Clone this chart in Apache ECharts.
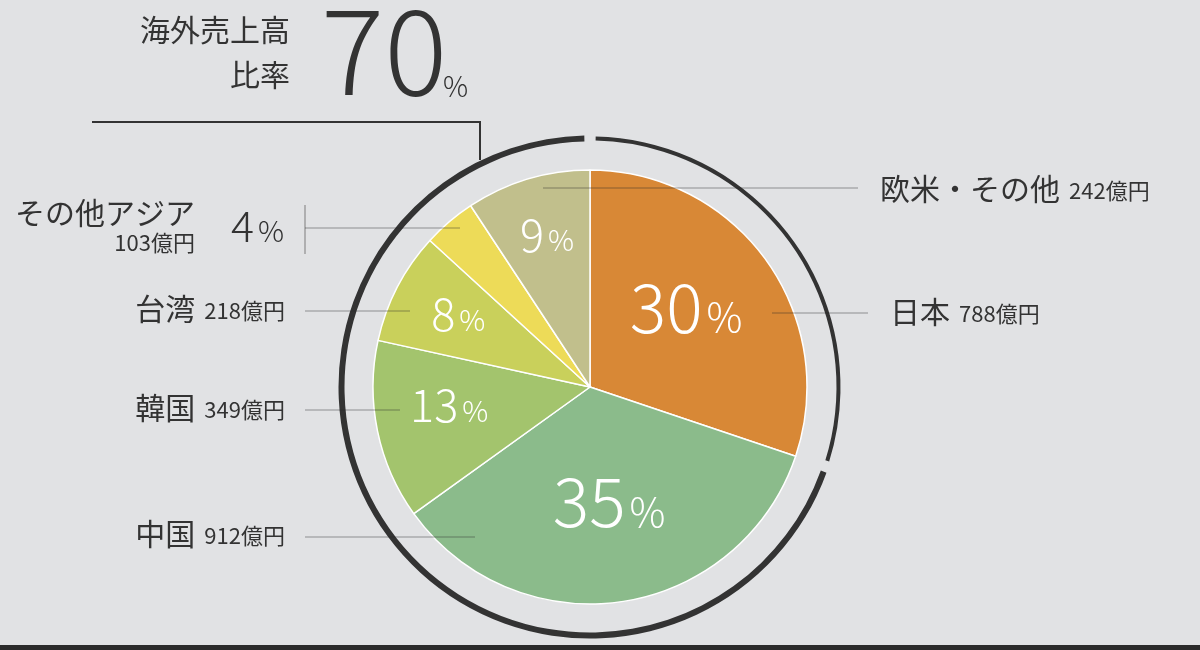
<!DOCTYPE html>
<html>
<head>
<meta charset="utf-8">
<script src="https://cdn.jsdelivr.net/npm/echarts@6/dist/echarts.min.js"></script>
<style>
html,body{margin:0;padding:0;background:#E1E2E4;}
#c{width:1200px;height:650px;}
</style>
</head>
<body>
<div id="c"></div>
<script>
// ---- data ----
const regions = ['日本', '中国', '韓国', '台湾', 'その他アジア', '欧米・その他'];
const sales = [788, 912, 349, 218, 103, 242];          // 億円
const colors = ['#D88836', '#8BBB8B', '#A3C46D', '#C9D05B', '#EDDB58', '#C1BF8C'];
const titleLines = ['海外売上高', '比率'];
const unit = '億円';

const FONT = "'Noto Sans CJK JP', 'Noto Sans', sans-serif";
const total = sales.reduce((a, b) => a + b, 0);
const pct = v => Math.round(v / total * 100);
const domestic = sales[0];
const overseasPct = pct(total - domestic);

// leader line / label spots (layout only)
const spots = [
  {x: 890, y: 312, align: 'left',  line: [[772, 313], [820, 313], [868, 313]]},
  {x: 285, y: 534, align: 'right', line: [[475, 537], [390, 537], [305, 537]]},
  {x: 285, y: 408, align: 'right', line: [[400, 410], [352, 410], [305, 410]]},
  {x: 285, y: 309, align: 'right', line: [[410, 311], [357, 311], [305, 311]]},
  {x: 195, y: 226, align: 'right', line: [[460, 228], [380, 228], [305, 228]]},
  {x: 880, y: 189, align: 'left',  line: [[543, 188], [700, 188], [858, 188]]}
];
// small nudges of the in-slice percentage labels
const pctNudge = [[-3, -9], [1, -6], [9, -13], [4, -3], [0, 0], [1, -6]];

const chart = echarts.init(document.getElementById('c'), null, {renderer: 'canvas'});

const clearData = (show) => regions.map((n, i) => ({
  name: n, value: sales[i], itemStyle: {color: 'rgba(0,0,0,0)'},
  label: {show: show(i)}
}));

const pctRich = (big, small, pad, color) => ({
  v: {fontSize: big, color: color, fontFamily: FONT, fontWeight: 300},
  p: {fontSize: small, color: color, fontFamily: FONT, fontWeight: 300, verticalAlign: 'bottom', padding: [0, 0, pad, 4]}
});

const option = {
  backgroundColor: '#E1E2E4',
  animation: false,
  graphic: [
    {type: 'text', right: 1200 - 290, top: 15, style: {text: titleLines[0], fontSize: 30, fill: '#333', fontFamily: FONT, textAlign: 'right'}},
    {type: 'text', right: 1200 - 290, top: 60, style: {text: titleLines[1], fontSize: 30, fill: '#333', fontFamily: FONT, textAlign: 'right'}},
    {type: 'text', left: 321, top: -9, style: {text: String(overseasPct), fontSize: 118, fill: '#333', fontFamily: FONT, fontWeight: 300}},
    {type: 'text', left: 443, top: 72, style: {text: '%', fontSize: 28, fill: '#333', fontFamily: FONT, fontWeight: 300}},
    {type: 'polyline', shape: {points: [[92, 122], [480, 122], [480, 160]]}, style: {stroke: '#333', lineWidth: 2, fill: null}},
    {type: 'line', shape: {x1: 305, y1: 205, x2: 305, y2: 254}, style: {stroke: '#8E8E8E', lineWidth: 1.2}},
    {type: 'rect', shape: {x: 0, y: 645, width: 1200, height: 5}, style: {fill: '#2B2B2B'}}
  ],
  series: [
    {
      // slices
      type: 'pie', center: [590, 387], radius: [0, 217], startAngle: 90, clockwise: true,
      silent: true, emphasis: {disabled: true},
      itemStyle: {borderColor: '#fff', borderWidth: 1.5},
      data: regions.map((n, i) => ({name: n, value: sales[i], itemStyle: {color: colors[i]}})),
      label: {show: false}, labelLine: {show: false}
    },
    {
      // region names + amounts with leader lines (drawn above slices)
      type: 'pie', center: [590, 387], radius: [0, 217], startAngle: 90, clockwise: true,
      silent: true, emphasis: {disabled: true}, z: 3,
      data: clearData(() => true),
      label: {
        show: true, position: 'outside',
        formatter: p => p.dataIndex === 4
          ? '{m|' + p.name + '}\n{a|' + p.value + unit + '}'
          : '{n|' + p.name + '}{a|' + p.value + unit + '}',
        rich: {
          n: {fontSize: 30, color: '#333', fontFamily: FONT, align: 'right', padding: [0, 9, 0, 0]},
          m: {fontSize: 30, color: '#333', fontFamily: FONT, align: 'right'},
          a: {fontSize: 22, color: '#333', fontFamily: FONT, align: 'right', padding: [4, 0, 0, 0]}
        }
      },
      labelLine: {show: true, showAbove: true, lineStyle: {color: 'rgba(40,40,40,0.45)', width: 1.2}},
      labelLayout: p => {
        const s = spots[p.dataIndex];
        return {x: s.x, y: s.y, align: s.align, verticalAlign: 'middle', labelLinePoints: s.line};
      }
    },
    {
      // inner percentage labels for the large slices
      type: 'pie', center: [590, 387], radius: [0, 238], startAngle: 90, silent: true, z: 4,
      emphasis: {disabled: true}, labelLine: {show: false},
      data: clearData(i => i <= 1),
      label: {
        position: 'inside', rotate: 0,
        formatter: p => '{v|' + pct(p.value) + '}{p|%}', rich: pctRich(68, 40, 4, '#fff')
      },
      labelLayout: p => ({dx: pctNudge[p.dataIndex][0], dy: pctNudge[p.dataIndex][1]})
    },
    {
      // percentage labels for the smaller slices
      type: 'pie', center: [590, 387], radius: [100, 200], startAngle: 90, silent: true, z: 4,
      emphasis: {disabled: true}, labelLine: {show: false},
      data: regions.map((n, i) => ({
        name: n, value: sales[i], itemStyle: {color: 'rgba(0,0,0,0)'},
        label: i === 4 ? {show: true, rich: pctRich(43, 29, 2, '#333')} : {show: i >= 2}
      })),
      label: {
        position: 'inside', rotate: 0,
        formatter: p => '{v|' + pct(p.value) + '}{p|%}', rich: pctRich(45, 29, 2, '#fff')
      },
      labelLayout: p => p.dataIndex === 4
        ? {x: 284, y: 226, align: 'right', verticalAlign: 'middle'}
        : {dx: pctNudge[p.dataIndex][0], dy: pctNudge[p.dataIndex][1]}
    },
    {
      // outer ring — overseas portion
      type: 'pie', center: [590, 387], radius: [245.5, 251.5], startAngle: 90, padAngle: 2.6,
      silent: true, emphasis: {disabled: true}, label: {show: false}, labelLine: {show: false},
      data: [
        {value: domestic, itemStyle: {color: 'rgba(0,0,0,0)'}},
        {value: total - domestic, itemStyle: {color: '#333'}}
      ]
    },
    {
      // outer ring — domestic portion
      type: 'pie', center: [590, 387], radius: [246.5, 250.5], startAngle: 90, padAngle: 2.6,
      silent: true, emphasis: {disabled: true}, label: {show: false}, labelLine: {show: false},
      data: [
        {value: domestic, itemStyle: {color: '#333'}},
        {value: total - domestic, itemStyle: {color: 'rgba(0,0,0,0)'}}
      ]
    }
  ]
};
chart.setOption(option);
</script>
</body>
</html>
